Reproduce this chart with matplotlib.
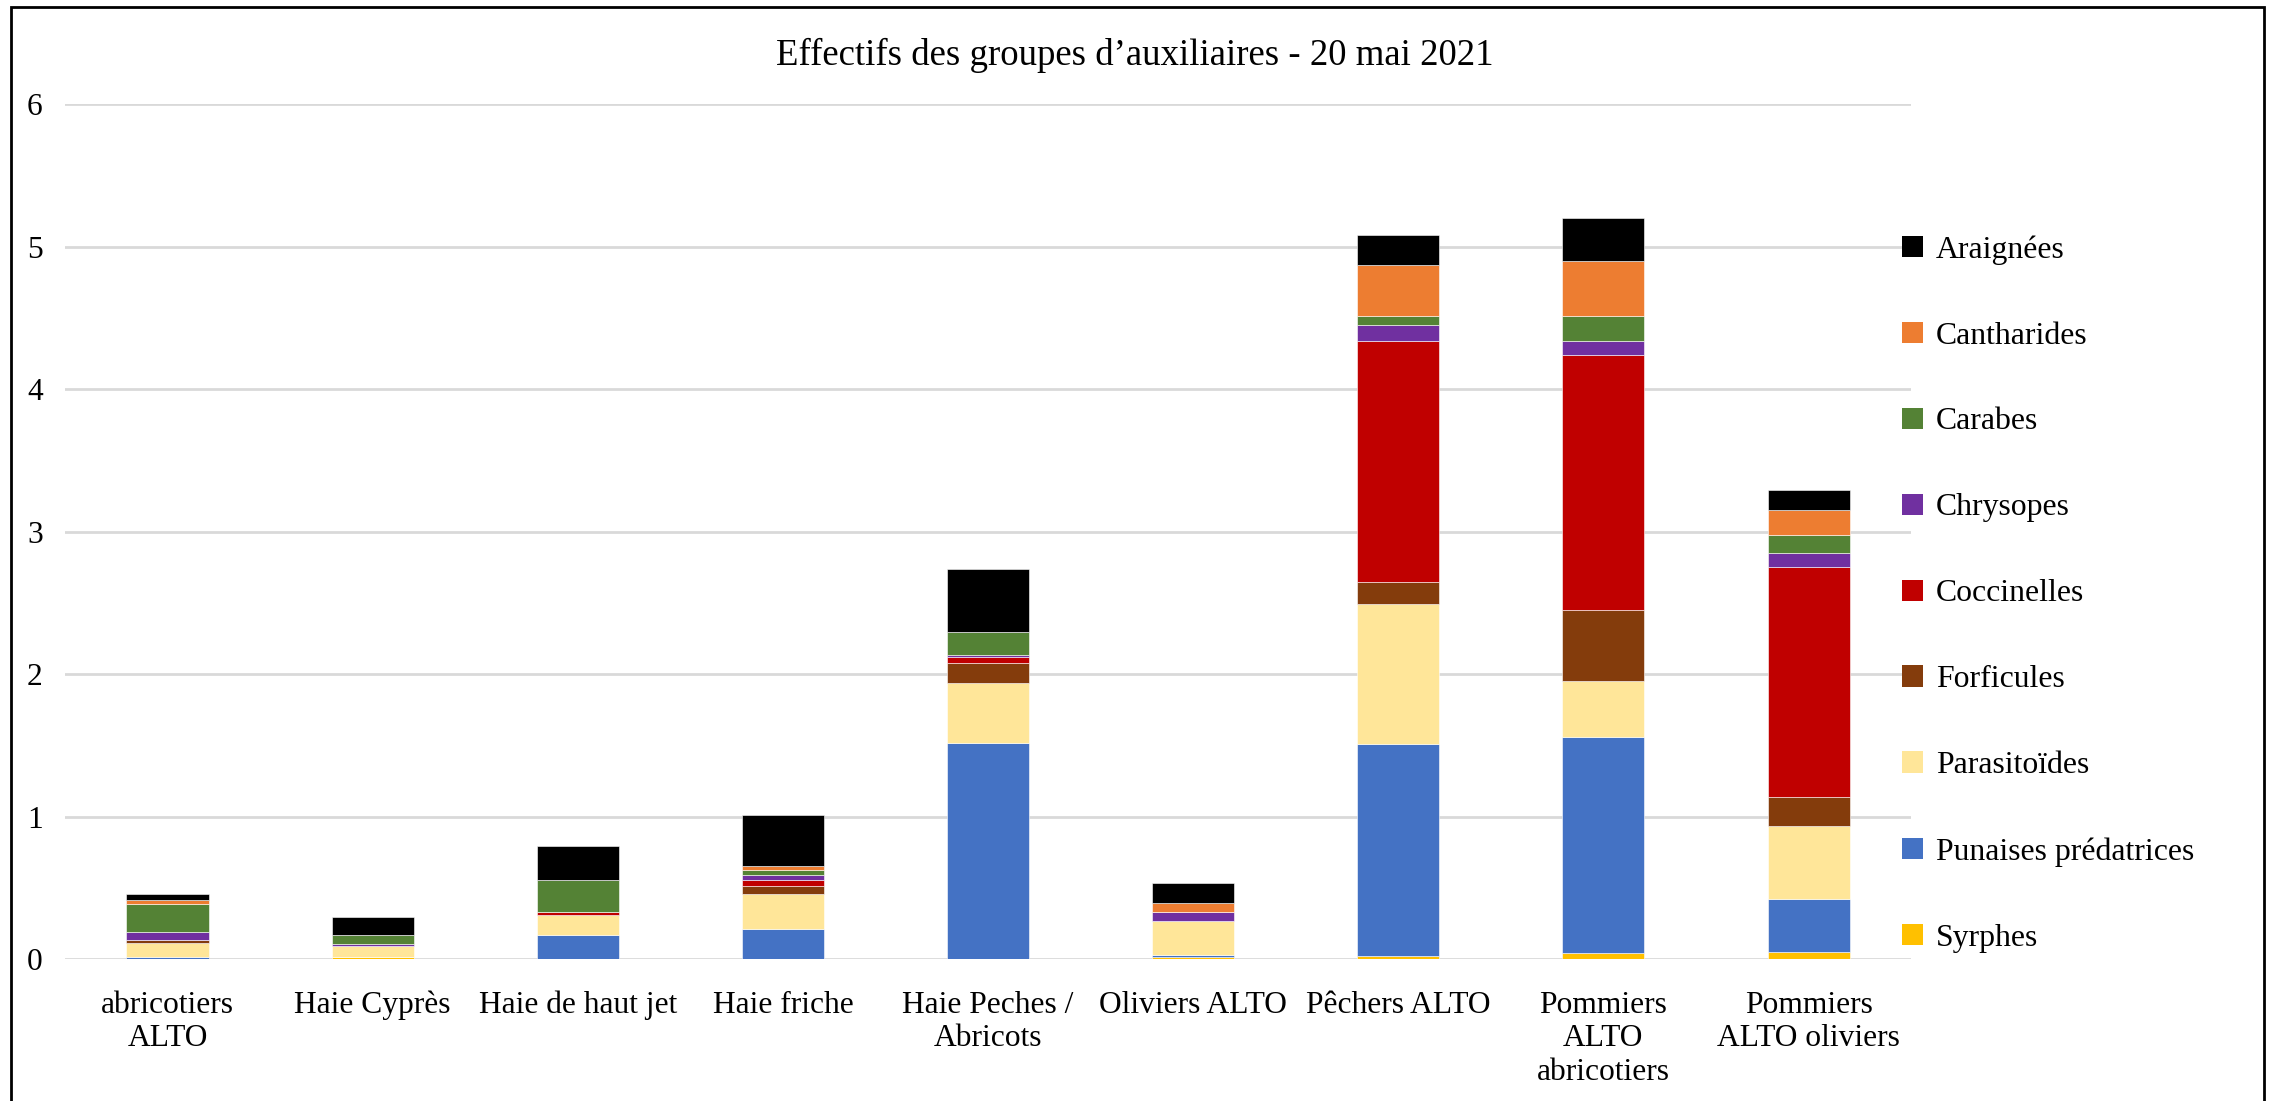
import matplotlib
matplotlib.use("Agg")
import matplotlib.pyplot as plt
import numpy as np
from matplotlib.patches import Rectangle, Patch

plt.rcParams['font.family'] = ['Liberation Serif', 'DejaVu Serif']

sites = ["abricotiers\nALTO", "Haie Cyprès", "Haie de haut jet", "Haie friche",
         "Haie Peches /\nAbricots", "Oliviers ALTO", "Pêchers ALTO",
         "Pommiers\nALTO\nabricotiers", "Pommiers\nALTO oliviers"]

# moyennes par groupe, de bas en haut de la pile
syrphes     = [0.000, 0.016, 0.000, 0.000, 0.000, 0.014, 0.025, 0.046, 0.054]
punaises    = [0.016, 0.000, 0.173, 0.215, 1.516, 0.016, 1.485, 1.516, 0.366]
parasitoides = [0.096, 0.075, 0.140, 0.240, 0.420, 0.241, 0.985, 0.389, 0.518]
forficules  = [0.021, 0.000, 0.000, 0.060, 0.140, 0.000, 0.156, 0.500, 0.203]
coccinelles = [0.000, 0.000, 0.021, 0.040, 0.042, 0.000, 1.686, 1.793, 1.609]
chrysopes   = [0.061, 0.018, 0.000, 0.040, 0.018, 0.061, 0.116, 0.097, 0.098]
carabes     = [0.196, 0.064, 0.222, 0.035, 0.162, 0.000, 0.060, 0.170, 0.130]
cantharides = [0.024, 0.000, 0.000, 0.023, 0.000, 0.061, 0.360, 0.391, 0.178]
araignees   = [0.042, 0.122, 0.239, 0.358, 0.438, 0.140, 0.212, 0.297, 0.134]

groupes = ["Syrphes", "Punaises prédatrices", "Parasitoïdes", "Forficules",
           "Coccinelles", "Chrysopes", "Carabes", "Cantharides", "Araignées"]
series = [syrphes, punaises, parasitoides, forficules, coccinelles,
          chrysopes, carabes, cantharides, araignees]
couleurs = ["#FFC000", "#4472C4", "#FFE699", "#843C0C", "#C00000",
            "#7030A0", "#548235", "#ED7D31", "#000000"]

fig = plt.figure(figsize=(22.7, 11.01), dpi=100)
ax = fig.add_axes([0.0286, 0.1287, 0.8133, 0.7766])

x = np.arange(len(sites))
bas = np.zeros(len(sites))
for vals, col in zip(series, couleurs):
    vals = np.array(vals)
    ax.bar(x, vals, width=0.4, bottom=bas, color=col, edgecolor="white",
           linewidth=0.4, zorder=3)
    bas += vals

ax.set_xlim(-0.5, len(sites) - 0.5)
ax.set_ylim(0, 6)
ax.set_yticks(range(7))
ax.yaxis.grid(True, color="#D9D9D9", linewidth=2, zorder=0)
ax.set_xticks(x)
ax.set_xticklabels(sites, fontsize=22.7, linespacing=1.22)
ax.tick_params(axis="y", labelsize=22.7, length=0, pad=16)
ax.tick_params(axis="x", length=0, pad=22.5)
for s in ax.spines.values():
    s.set_visible(False)

fig.text(0.5, 0.95, "Effectifs des groupes d’auxiliaires - 20 mai 2021",
         ha="center", va="center", fontsize=26.5)

handles = [Patch(facecolor=c, edgecolor="none") for c in couleurs][::-1]
fig.legend(handles, groupes[::-1], loc="upper left",
           bbox_to_anchor=(0.8325, 0.798), frameon=False, fontsize=22.9,
           handlelength=0.65, handleheight=0.65, handletextpad=0.4,
           labelspacing=1.79, borderaxespad=0)

# cadre autour du graphique
fig.patches.append(Rectangle((11 / 2270, -0.1), 2253 / 2270, 1.1 - 7 / 1101,
                             transform=fig.transFigure, fill=False,
                             edgecolor="black", linewidth=2))

fig.savefig("out.png", dpi=100)
